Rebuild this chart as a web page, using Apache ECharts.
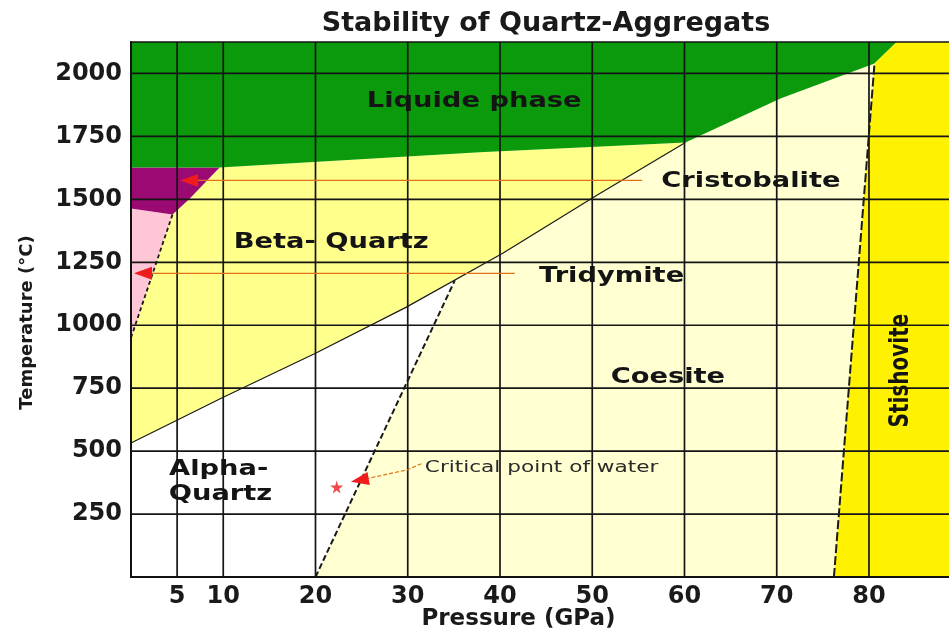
<!DOCTYPE html>
<html>
<head>
<meta charset="utf-8">
<title>Stability of Quartz-Aggregats</title>
<script src="https://cdn.jsdelivr.net/npm/echarts@6/dist/echarts.min.js"></script>
<style>
html, body { margin: 0; padding: 0; background: #fff; }
#chart { width: 949px; height: 635px; }
</style>
</head>
<body>
<div id="chart"></div>
<script>
// axis ticks
const pressureTicks = [5, 10, 20, 30, 40, 50, 60, 70, 80];
const temperatureTicks = [250, 500, 750, 1000, 1250, 1500, 1750, 2000];
const pressureMax = 89;
const temperatureMax = 2125;

// phase boundaries, [GPa, °C]
const alphaBetaLine = [[0, 532], [10, 714], [20, 889], [29.8, 1071], [40.3, 1286], [50.5, 1516], [60.1, 1726]];
const coesiteLine = [[20, 0], [35.1, 1178]];
const stishoviteLine = [[76.2, 0], [80.6, 2040]];
const tridymiteLine = [[0, 950], [4.5, 1440]];

// phase fields (polygons), [GPa, °C]
const liquidField = [[0, 1627], [9.6, 1627], [37.8, 1687], [60.1, 1726], [70.4, 1901], [80.6, 2040], [83, 2125], [0, 2125]];
const stishoviteField = [[76.2, 0], [80.6, 2040], [83, 2125], [89, 2125], [89, 0]];
const cristobaliteField = [[0, 1627], [9.6, 1627], [6.3, 1500], [4.5, 1440], [0, 1464]];
const tridymiteField = [[0, 1464], [4.5, 1440], [0, 950]];
const betaField = [[0, 950], [4.5, 1440], [6.3, 1500], [9.6, 1627], [37.8, 1687], [60.1, 1726], [50.5, 1516], [40.3, 1286], [29.8, 1071], [20, 889], [10, 714], [0, 532]];
const coesiteField = [[20, 0], [35.1, 1178], [40.3, 1286], [50.5, 1516], [60.1, 1726], [70.4, 1901], [80.6, 2040], [76.2, 0]];
const alphaField = [[0, 0], [20, 0], [35.1, 1178], [29.8, 1071], [20, 889], [10, 714], [0, 532]];

// labels
const phaseNames = ['Liquide phase', 'Beta- Quartz', 'Cristobalite', 'Tridymite', 'Coesite', 'Alpha-', 'Quartz'];
const phaseNameAt = [[37.2, 1888], [21.7, 1330], [67.2, 1570], [52.1, 1194], [58.2, 792], [9.5, 428], [9.7, 328]];
const stishoviteNameAt = [[83.5, 820]];
const criticalNoteAt = [[31.85, 432]];

// pointers
const cristobalitePointer = [[6.3, 1575], [55.4, 1575]];
const tridymitePointer = [[1.3, 1206], [41.6, 1206]];
const criticalPointer = [[24.8, 385], [29.9, 425], [31.6, 452]];
const criticalPoint = [[22.3, 357]];

var chart = echarts.init(document.getElementById('chart'));
var FONT = 'DejaVu Sans';
var STAR = 'path://M50,0 L61,35 L98,35 L68,57 L79,91 L50,70 L21,91 L32,57 L2,35 L39,35 Z';

function field(points, color) {
  return {
    type: 'custom',
    z: 1,
    silent: true,
    data: [[0, 0]],
    renderItem: function (params, api) {
      return {
        type: 'polygon',
        shape: { points: points.map(function (p) { return api.coord(p); }) },
        style: { fill: color }
      };
    }
  };
}

function boundary(points, width, dash) {
  return {
    type: 'line',
    z: 4,
    silent: true,
    symbol: 'none',
    data: points,
    lineStyle: { color: '#1a1a1a', width: width, type: dash }
  };
}

function pointer(points, rotate, dash) {
  var data = points.map(function (p, i) {
    if (i === 0) {
      return { value: p, symbol: 'triangle', symbolSize: [13, 18], symbolRotate: rotate };
    }
    return { value: p, symbol: 'none' };
  });
  return {
    type: 'line',
    z: 5,
    silent: true,
    data: data,
    showSymbol: true,
    itemStyle: { color: '#ee1c1c' },
    lineStyle: { color: '#e0701a', width: 1.2, type: dash }
  };
}

var option = {
  animation: false,
  backgroundColor: '#fff',
  title: {
    text: 'Stability of Quartz-Aggregats',
    left: 541,
    textAlign: 'center',
    top: 5,
    textStyle: { fontFamily: FONT, fontWeight: 'bold', fontSize: 27, color: '#1a1a1a' }
  },
  grid: {
    left: 131, right: -3, top: 42, bottom: 58,
    outerBoundsMode: 'none',
    containLabel: false,
    show: true, z: 10,
    backgroundColor: 'transparent',
    borderColor: '#151515', borderWidth: 1.5
  },
  xAxis: {
    type: 'value', min: 0, max: pressureMax, z: 10,
    name: 'Pressure (GPa)', nameLocation: 'middle', nameGap: 31, nameMoveOverlap: false,
    nameTextStyle: { fontFamily: FONT, fontWeight: 'bold', fontSize: 23, color: '#1a1a1a', padding: [0, 46, 0, 0] },
    axisLine: { show: true, lineStyle: { color: '#111', width: 2 } },
    axisTick: { show: false },
    splitLine: { show: false },
    axisLabel: { customValues: pressureTicks, fontFamily: FONT, fontWeight: 'bold', fontSize: 24, color: '#1a1a1a', margin: 8 }
  },
  yAxis: {
    type: 'value', min: 0, max: temperatureMax, z: 10,
    name: 'Temperature (°C)', nameLocation: 'middle', nameGap: 95, nameRotate: 90,
    nameTextStyle: { fontFamily: FONT, fontWeight: 'bold', fontSize: 18, color: '#1a1a1a', padding: [0, 26, 0, 0] },
    axisLine: { show: true, lineStyle: { color: '#111', width: 2 } },
    axisTick: { show: false },
    splitLine: { show: false },
    axisLabel: {
      customValues: temperatureTicks, fontFamily: FONT, fontWeight: 'bold', fontSize: 24, color: '#1a1a1a', margin: 9,
      formatter: function (v) { return String(v); }
    }
  },
  series: [
    field(alphaField, '#ffffff'),
    field(coesiteField, '#ffffd2'),
    field(betaField, '#ffff8c'),
    field(tridymiteField, '#ffc6d6'),
    field(cristobaliteField, '#9a0a72'),
    field(liquidField, '#0b9a0b'),
    field(stishoviteField, '#fff200'),
    // grid lines drawn over the fields
    {
      type: 'custom', z: 3, silent: true,
      data: pressureTicks.map(function (v) { return [v, 0]; }),
      renderItem: function (params, api) {
        var a = api.coord([api.value(0), 0]);
        var b = api.coord([api.value(0), temperatureMax]);
        return { type: 'line', shape: { x1: a[0], y1: a[1], x2: b[0], y2: b[1] }, style: { stroke: '#151515', lineWidth: 1.7 } };
      }
    },
    {
      type: 'custom', z: 3, silent: true,
      data: temperatureTicks.map(function (v) { return [0, v]; }),
      renderItem: function (params, api) {
        var a = api.coord([0, api.value(1)]);
        var b = api.coord([pressureMax, api.value(1)]);
        return { type: 'line', shape: { x1: a[0], y1: a[1], x2: b[0], y2: b[1] }, style: { stroke: '#151515', lineWidth: 1.7 } };
      }
    },
    boundary(alphaBetaLine, 1.2, 'solid'),
    boundary(coesiteLine, 2, [6, 3]),
    boundary(stishoviteLine, 2, [9, 3]),
    boundary(tridymiteLine, 1.8, [4, 3]),
    pointer(cristobalitePointer, 90, 'solid'),
    pointer(tridymitePointer, 90, 'solid'),
    pointer(criticalPointer, 100, [4, 2]),
    {
      type: 'scatter', z: 5, silent: true,
      data: criticalPoint,
      symbol: STAR, symbolSize: 13,
      itemStyle: { color: '#ee1c1c' }
    },
    // phase names
    {
      type: 'custom', z: 6, silent: true,
      data: phaseNameAt,
      renderItem: function (params, api) {
        var p = api.coord([api.value(0), api.value(1)]);
        return {
          type: 'text', x: p[0], y: p[1], scaleX: 1.3,
          style: { text: phaseNames[params.dataIndex], fontFamily: FONT, fontWeight: 'bold', fontSize: 21, fill: '#141414', align: 'center', verticalAlign: 'middle' }
        };
      }
    },
    {
      type: 'custom', z: 6, silent: true,
      data: stishoviteNameAt,
      renderItem: function (params, api) {
        var p = api.coord([api.value(0), api.value(1)]);
        return {
          type: 'text', x: p[0], y: p[1], rotation: Math.PI / 2, scaleY: 1.35,
          style: { text: 'Stishovite', fontFamily: FONT, fontWeight: 'bold', fontSize: 20, fill: '#141414', align: 'center', verticalAlign: 'middle' }
        };
      }
    },
    {
      type: 'custom', z: 6, silent: true,
      data: criticalNoteAt,
      renderItem: function (params, api) {
        var p = api.coord([api.value(0), api.value(1)]);
        return {
          type: 'text', x: p[0], y: p[1], scaleX: 1.35,
          style: { text: 'Critical point of water', fontFamily: FONT, fontSize: 16, fill: '#2a2a2a', align: 'left', verticalAlign: 'middle' }
        };
      }
    }
  ]
};

chart.setOption(option);
</script>
</body>
</html>
